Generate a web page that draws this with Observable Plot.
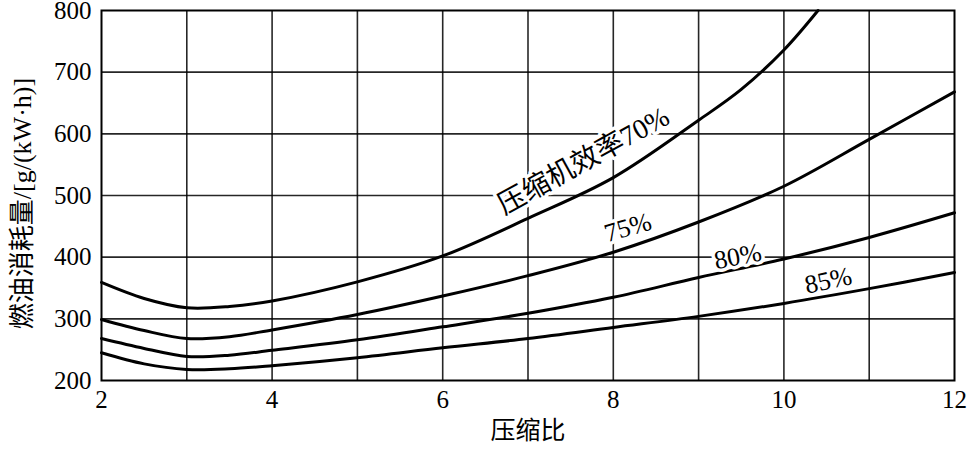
<!DOCTYPE html>
<html>
<head>
<meta charset="utf-8">
<script src="https://cdn.jsdelivr.net/npm/d3@7"></script>
<script src="https://cdn.jsdelivr.net/npm/@observablehq/plot@0.6"></script>
<style>
  html, body { margin: 0; padding: 0; background: #fff; }
  svg { display: block; }
</style>
</head>
<body>
<div id="chart"></div>
<script>
// Data
const xs70 = [2, 2.5, 3, 3.5, 4, 5, 6, 7, 8, 9, 9.5, 10, 10.4];
const eff70 = [359, 333, 318, 320, 329, 360, 402, 463, 529, 622, 672, 736, 800];
const xsBase = [2, 2.5, 3, 3.5, 4, 5, 6, 7, 8, 9, 10, 11, 12];
const eff75 = [299, 281, 268, 271, 282, 307, 337, 370, 408, 457, 515, 591, 668];
const eff80 = [268, 252, 239, 241, 249, 266, 287, 309, 335, 367, 397, 432, 472];
const eff85 = [245, 227, 218, 219, 224, 237, 253, 268, 286, 304, 325, 349, 375];

const xTicks = [2, 4, 6, 8, 10, 12];
const xGrid = [3, 4, 5, 6, 7, 8, 9, 10, 11];
const yTicks = [200, 300, 400, 500, 600, 700, 800];
const yGrid = [300, 400, 500, 600, 700];

const curveLabels = [
  {text: "压缩机效率70%", x: 7.65, y: 556, rotate: -29, size: 28},
  {text: "75%", x: 8.17, y: 448, rotate: -16, size: 26},
  {text: "80%", x: 9.46, y: 401, rotate: -11, size: 26},
  {text: "85%", x: 10.52, y: 362, rotate: -12, size: 26}
];

const series = [
  ...xs70.map((x, i) => ({s: "70", x, y: eff70[i]})),
  ...xsBase.map((x, i) => ({s: "75", x, y: eff75[i]})),
  ...xsBase.map((x, i) => ({s: "80", x, y: eff80[i]})),
  ...xsBase.map((x, i) => ({s: "85", x, y: eff85[i]}))
];

const font = "'Liberation Serif', 'Noto Sans CJK SC', serif";

const chart = Plot.plot({
  width: 967,
  height: 452,
  marginLeft: 101,
  marginRight: 13,
  marginTop: 10,
  marginBottom: 72,
  style: {fontFamily: font, fontSize: "24px", color: "#000", background: "#fff"},
  x: {domain: [2, 12]},
  y: {domain: [200, 800]},
  marks: [
    Plot.ruleX(xGrid, {stroke: "#000", strokeWidth: 1.6, strokeOpacity: 0.85}),
    Plot.ruleY(yGrid, {stroke: "#000", strokeWidth: 1.6, strokeOpacity: 0.85}),
    Plot.frame({stroke: "#000", strokeWidth: 2}),
    Plot.line(series, {x: "x", y: "y", z: "s", stroke: "#000", strokeWidth: 3, curve: "catmull-rom"}),
    ...curveLabels.map(d => Plot.text([d], {
      x: "x", y: "y", text: "text", rotate: d.rotate,
      fontSize: d.size, fill: "#000", stroke: "#fff", strokeWidth: 7,
      fontFamily: font
    })),
    Plot.axisX(xTicks, {tickSize: 0, tickPadding: 10, fontSize: 25, label: null, fontFamily: font}),
    Plot.axisY(yTicks, {tickSize: 0, tickPadding: 10, fontSize: 25, label: null, fontFamily: font}),
    Plot.text(["压缩比"], {frameAnchor: "bottom", dy: 58, fontSize: 25, fontFamily: font}),
    Plot.text(["燃油消耗量/[g/(kW·h)]"], {frameAnchor: "left", textAnchor: "middle", dx: -79, dy: 8, rotate: -90, fontSize: 26, fontFamily: font})
  ]
});
document.getElementById("chart").appendChild(chart);
</script>
</body>
</html>
